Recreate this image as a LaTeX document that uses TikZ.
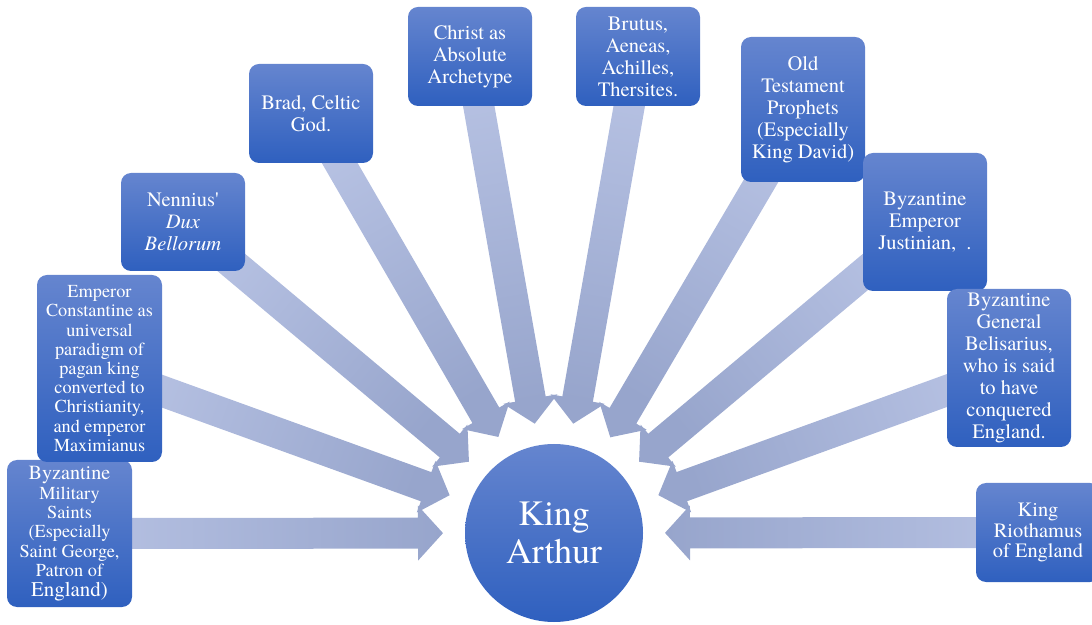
\documentclass[tikz,border=0pt]{standalone}
\usepackage{fontspec}
\setmainfont{texgyretermes}[Extension=.otf, UprightFont=*-regular,
  ItalicFont=*-italic, BoldFont=*-bold, BoldItalicFont=*-bolditalic]
\usepackage{tikz}
\usetikzlibrary{positioning,calc,backgrounds}

\definecolor{boxtop}{RGB}{101,133,207}
\definecolor{boxbot}{RGB}{47,96,191}
\definecolor{tailclr}{RGB}{183,194,227}
\definecolor{tipclr}{RGB}{151,165,204}

% block arrow from a source box to the centre circle
\newcommand{\feed}[2]{%
  \path (#1); \pgfgetlastxy{\fx}{\fy}
  \path (#2); \pgfgetlastxy{\tx}{\ty}
  \pgfmathsetmacro{\ang}{atan2(\fy-\ty,\fx-\tx)}
  \pgfmathsetmacro{\shang}{\ang-90}
  \pgfmathsetmacro{\dist}{veclen(\fx-\tx,\fy-\ty)}
  \begin{pgfonlayer}{background}
  \begin{scope}[shift={(#2)}, rotate=\ang]
    \shade[top color=tailclr, bottom color=tipclr, shading angle=\shang]
      (111,0) -- (136,27.5) -- (136,15.5) -- (\dist,15.5) -- (\dist,-15.5)
      -- (136,-15.5) -- (136,-27.5) -- cycle;
  \end{scope}
  \end{pgfonlayer}}

\begin{document}
\begin{tikzpicture}[x=1pt, y=1pt,
    source/.style={rounded corners=10pt, top color=boxtop, bottom color=boxbot,
      text=white, align=center, minimum width=124pt, inner sep=2pt,
      font=\fontsize{20.5}{22}\selectfont},
    hub/.style={circle, top color=boxtop, bottom color=boxbot, text=white,
      align=center, minimum size=178pt, inner sep=0pt,
      font=\fontsize{35.6}{37.7}\selectfont}]
  \useasboundingbox (0,0) rectangle (1092,624);
  \clip (0,0) rectangle (1092,624);

  \node[hub] (arthur) at (554,91) {King\\Arthur};

  \node[source, minimum width=125pt, minimum height=147pt,
    font=\fontsize{18.3}{19.4}\selectfont] (saints) at (69.5,90.5)
    {{\fontsize{20.1}{19.4}\selectfont Byzantine}\\Military\\Saints\\(Especially\\Saint George,\\Patron of\\{\fontsize{20.9}{19.4}\selectfont England)}};
  \node[source, minimum width=125pt, minimum height=187pt,
    font=\fontsize{18.3}{19.2}\selectfont] (constantine) at (99.5,255.5)
    {Emperor\\Constantine as\\universal\\paradigm of\\pagan king\\converted to\\Christianity,\\and emperor\\Maximianus};
  \node[source, minimum height=98pt] (nennius) at (183,402)
    {Nennius\textquotesingle\\\textit{Dux}\\\textit{Bellorum}};
  \node[source, minimum height=99pt] (brad) at (311,510.5) {Brad, Celtic\\God.};
  \node[source, minimum height=99pt] (christ) at (470,567.5)
    {Christ as\\Absolute\\Archetype};
  \node[source, minimum height=99pt] (brutus) at (638,567.5)
    {Brutus,\\Aeneas,\\Achilles,\\Thersites.};
  \node[source, minimum height=145pt] (prophets) at (803,514.5)
    {Old\\Testament\\Prophets\\(Especially\\King David)};
  \node[source, minimum height=138pt] (justinian) at (925,402)
    {Byzantine\\Emperor\\Justinian,~~.};
  \node[source, minimum height=158pt] (belisarius) at (1009,256)
    {Byzantine\\General\\Belisarius,\\who is said\\to have\\conquered\\England.};
  \node[source, minimum height=99pt, font=\fontsize{20.4}{20.5}\selectfont]
    (riothamus) at (1038,91.5) {King\\Riothamus\\of England};

  \foreach \src in {saints,constantine,nennius,brad,christ,brutus,
                    prophets,justinian,belisarius,riothamus}
    \feed{\src}{arthur};
\end{tikzpicture}
\end{document}
